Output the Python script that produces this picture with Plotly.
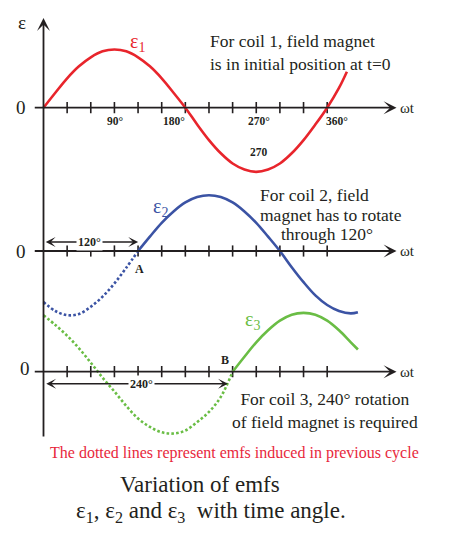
import plotly.graph_objects as go

# angles in degrees, emf in units of peak value
deg_e1 = [0, 15, 30, 45, 60, 75, 90, 105, 120, 135, 150, 165, 180, 195, 210, 225,
          240, 255, 270, 285, 300, 315, 330, 345, 360, 375, 385]
e1 = [0, 0.25, 0.49, 0.69, 0.84, 0.94, 0.97, 0.94, 0.84, 0.69, 0.49, 0.25, 0,
      -0.28, -0.54, -0.76, -0.93, -1.03, -1.07, -1.03, -0.93, -0.76, -0.54, -0.28, 0, 0.33, 0.6]

deg_e2_prev = [0, 15, 30, 45, 60, 75, 90, 105, 120]
e2_prev = [-0.85, -1.0, -1.07, -1.05, -0.93, -0.76, -0.54, -0.28, 0]
deg_e2 = [120, 135, 150, 165, 180, 195, 210, 225, 240, 255, 270, 285, 300, 315, 330,
          345, 360, 375, 390, 399]
e2 = [0, 0.24, 0.47, 0.66, 0.81, 0.9, 0.93, 0.9, 0.81, 0.66, 0.47, 0.24, 0,
      -0.27, -0.52, -0.74, -0.9, -1.0, -1.04, -1.02]

deg_e3_prev = [0, 15, 30, 45, 60, 75, 90, 105, 120, 135, 150, 165, 180, 195, 210, 225, 240]
e3_prev = [0.94, 0.78, 0.6, 0.39, 0.15, -0.1, -0.33, -0.57, -0.78, -0.92, -1.01, -1.03,
           -0.98, -0.84, -0.67, -0.42, 0]
deg_e3 = [240, 255, 270, 285, 300, 315, 330, 345, 360, 375, 390, 399]
e3 = [0, 0.25, 0.49, 0.69, 0.85, 0.95, 0.98, 0.95, 0.85, 0.69, 0.49, 0.37]

tick_deg = [30, 60, 90, 120, 150, 180, 210, 240, 270, 300, 330, 360]
tick_labels = ["90°", "180°", "270°", "360°"]
tick_label_deg = [91, 165, 273, 372]

RED = "#e8252c"
BLUE = "#3b53a4"
GREEN = "#6abd45"
INK = "#231f20"
SERIF = "Liberation Serif"

# the page body adds an 8px margin, so the figure is a bit smaller and
# positions measured on the reference are shifted by that amount
OFF = 8
W, H = 450 - OFF, 538 - OFF

def py(y_ref):
    return 1 - (y_ref - OFF) / H

def px(x_ref):
    return (x_ref - OFF) / W

fig = go.Figure()

def curve(x, y, color, yax, dotted=False):
    fig.add_trace(go.Scatter(
        x=x, y=y, mode="lines", yaxis=yax, hoverinfo="skip",
        line=dict(color=color, width=2.6, shape="spline",
                  dash="2.6px,2.2px" if dotted else "solid")))

for yax in ["y", "y2", "y3"]:
    fig.add_trace(go.Scatter(
        x=tick_deg, y=[0] * len(tick_deg), mode="markers", yaxis=yax, hoverinfo="skip",
        marker=dict(symbol="line-ns", size=8, line=dict(color=INK, width=1.6))))

curve(deg_e1, e1, RED, "y")
curve(deg_e2_prev, e2_prev, BLUE, "y2", dotted=True)
curve(deg_e2, e2, BLUE, "y2")
curve(deg_e3_prev, e3_prev, GREEN, "y3", dotted=True)
curve(deg_e3, e3, GREEN, "y3")

ann = []

def arrow(x, y, ax, ay, yref, side="end", width=1.8, size=1.2):
    ann.append(dict(x=x, y=y, ax=ax, ay=ay, xref="x", yref=yref, axref="x", ayref=yref,
                    text="", showarrow=True, arrowhead=3, arrowside=side,
                    arrowwidth=width, arrowsize=size, arrowcolor=INK))

def label(x, y, text, yref, size=16, color=INK, bold=False, bg=None, **kw):
    if bold:
        text = "<b>" + text + "</b>"
    d = dict(x=x, y=y, xref="x", yref=yref, text=text, showarrow=False,
             xanchor="center", yanchor="middle",
             font=dict(family=SERIF, size=size, color=color))
    if bg:
        d["bgcolor"] = bg
    d.update(kw)
    ann.append(d)

# horizontal axes with arrowheads
for yref in ["y", "y2", "y3"]:
    arrow(448, 0, -13, 0, yref)
    label(462, 0, "ωt", yref, size=15)

# vertical axis
ann.append(dict(x=0, y=py(18), xref="x", yref="paper", ax=0, ay=420,
                axref="pixel", ayref="pixel", text="", showarrow=True, arrowhead=3,
                arrowwidth=1.8, arrowsize=1.2, arrowcolor=INK))
label(-27, py(23), "ε", "paper", size=19)
label(-28, 0, "0", "y", size=19)
label(-28, 0, "0", "y2", size=19)
label(-24, 0.06, "0", "y3", size=19)

# top panel
for t, d in zip(tick_labels, tick_label_deg):
    label(d, -0.22, t, "y", size=11.5, bold=True)
label(273, -0.74, "270", "y", size=11.5, bold=True)
label(119, 1.09, "ε<sub>1</sub>", "y", size=20, color=RED)
label(209, 0.92, "For coil 1, field magnet<br>is in initial position at t=0", "y",
      size=17.5, xanchor="left", align="left")

# middle panel
arrow(2.8, 0.15, 122, 0.15, "y2", side="end+start", width=1.5, size=1.1)
label(59, 0.15, "120°", "y2", size=12, bold=True, bg="white")
label(122, -0.3, "A", "y2", size=12, bold=True)
label(148, 0.73, "ε<sub>2</sub>", "y2", size=20, color=BLUE)
label(272, 0.93, "For coil 2, field", "y2", size=17.5, xanchor="left")
label(272, 0.6, "magnet has to rotate", "y2", size=17.5, xanchor="left")
label(299, 0.29, "through 120°", "y2", size=17.5, xanchor="left")

# bottom panel
arrow(3.5, -0.2, 236, -0.2, "y3", side="end+start", width=1.5, size=1.1)
label(124, -0.2, "240°", "y3", size=12, bold=True, bg="white")
label(230, 0.2, "B", "y3", size=12, bold=True)
label(265, 0.86, "ε<sub>3</sub>", "y3", size=20, color=GREEN)
label(357, -0.64, "For coil 3, 240° rotation<br>of field magnet is required", "y3",
      size=17.5, align="center")

label(242, py(453), "The dotted lines represent emfs induced in previous cycle",
      "paper", size=16, color="#e8283c")
ann.append(dict(x=px(199.5), y=py(484), xref="paper", yref="paper",
                xanchor="center", yanchor="middle",
                text="Variation of emfs", showarrow=False,
                font=dict(family=SERIF, size=23, color=INK)))
ann.append(dict(x=px(210.5), y=py(512), xref="paper", yref="paper",
                xanchor="center", yanchor="middle",
                text="ε<sub>1</sub>, ε<sub>2</sub> and ε<sub>3</sub>  with time angle.",
                showarrow=False, font=dict(family=SERIF, size=23, color=INK)))

px_per_deg = 0.788
x0 = 43.5
h = 192 / H
centers = [py(107.7), py(251), py(371.7)]
yaxis_common = dict(range=[-1.6, 1.6], visible=False, fixedrange=True)

fig.update_layout(
    width=W, height=H,
    margin=dict(l=0, r=0, t=0, b=0),
    paper_bgcolor="white", plot_bgcolor="rgba(0,0,0,0)",
    showlegend=False,
    xaxis=dict(range=[(OFF - x0) / px_per_deg, (450 - x0) / px_per_deg], visible=False),
    yaxis=dict(domain=[centers[0] - h / 2, centers[0] + h / 2], **yaxis_common),
    yaxis2=dict(domain=[centers[1] - h / 2, centers[1] + h / 2], anchor="x", **yaxis_common),
    yaxis3=dict(domain=[centers[2] - h / 2, centers[2] + h / 2], anchor="x", **yaxis_common),
    annotations=ann,
)

fig.write_html("out.html")
